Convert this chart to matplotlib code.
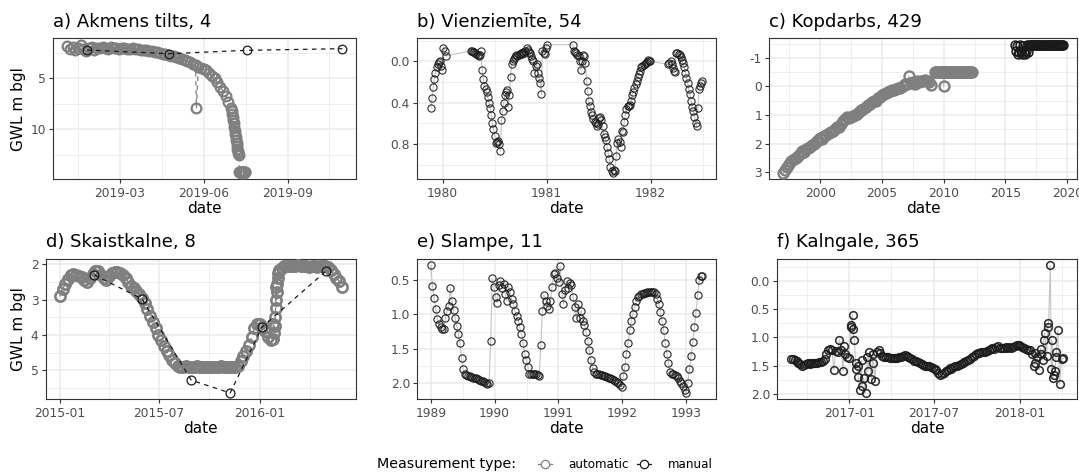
import numpy as np
import pandas as pd
import matplotlib
matplotlib.use("Agg")
import matplotlib.pyplot as plt
import matplotlib.dates as mdates
from matplotlib.lines import Line2D

plt.rcParams['font.family'] = ['DejaVu Sans']

# ------------------------------------------------------------------ data
titles = ["a) Akmens tilts, 4", "b) Vienziemīte, 54", "c) Kopdarbs, 429",
          "d) Skaistkalne, 8", "e) Slampe, 11", "f) Kalngale, 365"]

# a) automatic (3-day readings from 2019-01-02)
a_auto_start = "2019-01-02"
a_auto_vals = [1.8, 2.1, 1.9, 2.2, 2.0, 1.7, 2.1, 2.3, 2.0, 1.9, 2.2, 2.0,
               2.0, 1.9, 2.0, 2.1, 1.9, 2.0, 2.0, 2.1, 2.0, 2.0, 2.1, 2.1,
               2.0, 2.1, 2.1, 2.2, 2.2, 2.2,
               2.3, 2.3, 2.4, 2.4, 2.5, 2.6, 2.6, 2.7, 2.8,
               2.8, 2.9, 3.0, 3.1, 3.2, 3.3, 3.4, 3.6, 3.7, 3.9, 4.0, 4.1,
               4.2, 4.5, 4.8, 5.0, 5.4, 5.8, 6.2, 6.7, 7.3, 7.9]
# a) automatic, half-day readings from 2019-07-02
a_tail_start = "2019-07-02"
a_tail_vals = [8.2, 8.5, 8.8, 9.1, 9.4, 9.8, 10.1, 10.4, 10.7, 11.0, 11.3, 11.6,
               11.9, 12.1, 12.3, 12.5, 14.2, 14.2, 14.15, 14.2, 14.25, 14.2,
               14.2, 14.15, 14.2, 14.2, 14.25, 14.2, 14.2, 14.2]
a_auto_extra_dates = ["2019-05-24"]
a_auto_extra_vals = [7.9]
a_man_dates = ["2019-01-24", "2019-04-24", "2019-07-18", "2019-10-31"]
a_man_vals = [2.22, 2.58, 2.25, 2.09]

# b) manual, 4-day segments
b_seg_starts = ["1979-11-21", "1980-04-09", "1981-04-03", "1982-03-04"]
b_seg1 = [0.45, 0.36, 0.25, 0.17, 0.11, 0.06, 0.03, 0.01, 0.00, 0.05, 0.08,
          -0.13, -0.10, -0.05]
b_seg2 = [-0.10, -0.10, -0.09, -0.09, -0.08, -0.07, -0.06, -0.05, -0.06, -0.10,
          0.08, 0.17, 0.24, 0.27, 0.30, 0.35, 0.40, 0.45, 0.52, 0.60, 0.66, 0.72,
          0.79, 0.78, 0.77, 0.80, 0.87, 0.57, 0.48, 0.40, 0.33, 0.30, 0.28, 0.44,
          0.33, 0.15, 0.03, 0.00, -0.02, -0.04, -0.06, -0.05, -0.06, -0.07, -0.08,
          -0.07, -0.09, -0.08, -0.10, -0.13, -0.11, -0.09, -0.08, -0.05, -0.02,
          0.00, 0.11, 0.05, 0.03, 0.11, 0.16, 0.21, 0.32, -0.10, -0.08, -0.07,
          -0.13, -0.16]
b_seg3 = [-0.16, -0.10, -0.09, -0.08, -0.06, -0.05, 0.00, 0.08, 0.00, -0.06,
          -0.05, 0.02, 0.19, 0.29, 0.38, 0.43, 0.49, 0.52, 0.56, 0.59, 0.60, 0.63,
          0.61, 0.55, 0.54, 0.57, 0.63, 0.70, 0.73, 0.76, 0.83, 0.89, 0.95, 1.02,
          1.06, 1.08, 1.05, 1.06, 0.92, 0.79, 0.75, 0.78, 0.83, 0.67, 0.68, 0.59,
          0.52, 0.46, 0.43, 0.43, 0.42, 0.38, 0.33, 0.30, 0.26, 0.22, 0.19, 0.15,
          0.12, 0.09, 0.06, 0.05, 0.04, 0.03, 0.02, 0.01, -0.01, 0.00, 0.00]
b_seg4 = [0.03, 0.02, 0.00, 0.03, 0.07, 0.09, 0.10, -0.08, -0.08, -0.07, -0.06,
          -0.04, -0.01, 0.02, 0.06, 0.11, 0.16, 0.21, 0.27, 0.32, 0.38, 0.44,
          0.48, 0.54, 0.60, 0.63, 0.45, 0.27, 0.24, 0.21, 0.19]

# c) automatic bimonthly, automatic plateau monthly, manual monthly
c_auto_start = "1997-01-01"
c_auto_vals = [3.02, 2.92, 2.80, 2.70, 2.62, 2.55,
               2.50, 2.42, 2.35, 2.25, 2.28, 2.18,
               2.15, 2.10, 2.05, 2.00, 1.95, 1.88,
               1.80, 1.85, 1.72, 1.70, 1.62, 1.58,
               1.55, 1.50, 1.42, 1.40, 1.30, 1.22,
               1.15, 1.08, 1.10, 1.05, 1.02, 0.98,
               0.95, 0.90, 0.82, 0.80, 0.72, 0.66,
               0.60, 0.55, 0.52, 0.50, 0.42, 0.36,
               0.30, 0.28, 0.22, 0.20, 0.15, 0.14,
               0.12, 0.08, 0.06, 0.05, -0.02, -0.08,
               -0.10, -0.38, -0.12, -0.15, -0.10, -0.18,
               -0.15, -0.20, -0.18, -0.22, -0.20, -0.15,
               -0.05]
c_plat_start = "2009-05-01"
c_plat_vals = [-0.50, -0.49, -0.50, -0.51, -0.50, -0.50, -0.49, -0.50, -0.50,
               -0.51, -0.50, -0.50, -0.49, -0.50, -0.51, -0.50, -0.50, -0.50,
               -0.49, -0.50, -0.50, -0.51, -0.50, -0.50, -0.49, -0.50, -0.50,
               -0.51, -0.50, -0.50, -0.50, -0.49, -0.50, -0.50, -0.51, -0.50, -0.50]
c_auto_extra_dates = ["2010-01-01"]
c_auto_extra_vals = [0.0]
c_man_start = "2015-10-01"
c_man_vals = [-1.45, -1.25, -1.40, -1.15, -1.20, -1.45, -1.25, -1.15, -1.40, -1.20,
              -1.15, -1.25, -1.45, -1.20, -1.45, -1.45,
              -1.45, -1.46, -1.45, -1.44, -1.45, -1.45, -1.46, -1.45, -1.45, -1.44,
              -1.45, -1.45, -1.46, -1.45, -1.45, -1.44, -1.45, -1.45, -1.46, -1.45,
              -1.45, -1.44, -1.45, -1.45, -1.46, -1.45, -1.45, -1.44, -1.45, -1.45,
              -1.46, -1.45]

# d) automatic 5-day readings from 2015-01-01, daily readings in the Jan-2016 rise, manual
d_auto_start = "2015-01-01"
d_auto_vals = [2.91, 2.70, 2.56, 2.42, 2.30, 2.27, 2.30, 2.33, 2.36, 2.45,
               2.50, 2.40, 2.28, 2.18, 2.20, 2.30, 2.38, 2.45, 2.33, 2.25,
               2.22, 2.21, 2.25, 2.30, 2.40, 2.50, 2.60, 2.68, 2.76, 2.85,
               2.95, 3.10, 3.27, 3.45, 3.63, 3.80, 4.00, 4.15, 4.30, 4.46,
               4.58, 4.70, 4.80, 4.87, 4.90, 4.90, 4.89, 4.90, 4.91, 4.90,
               4.89, 4.90, 4.90, 4.91, 4.90, 4.90, 4.91, 4.90, 4.90, 4.89,
               4.90, 4.90, 4.91, 4.90, 4.90, 4.88, 4.75, 4.60, 4.45, 4.28,
               4.05, 3.80, 3.68, 3.70, 3.78, 3.90, 4.05, 4.15, 3.70, 2.63,
               2.20, 2.10, 2.06, 2.05, 2.04, 2.06, 2.05, 2.03, 2.04, 2.06,
               2.05, 2.08, 2.06, 2.05, 2.07, 2.06, 2.04, 2.05, 2.08, 2.15,
               2.28, 2.38, 2.48, 2.65]
d_rise_start = "2016-01-26"
d_rise_vals = [4.10, 3.95, 3.75, 3.50, 3.25, 3.00, 2.78, 2.55, 2.38, 2.25, 2.15]
d_man_dates = ["2015-03-05", "2015-05-31", "2015-08-29", "2015-11-08",
               "2016-01-05", "2016-05-01"]
d_man_vals = [2.30, 2.98, 5.28, 5.64, 3.78, 2.19]

# e) manual, readings every 9.25 days from 1989-01-01
e_start = "1989-01-01"
e_vals = [0.29, 0.59, 0.76, 0.92, 1.07, 1.14, 1.19, 1.21, 1.22, 1.05,
          0.95, 0.88, 0.62, 0.80, 0.93, 1.05, 1.17, 1.28, 1.42, 1.63,
          1.80, 1.86, 1.88, 1.89, 1.90, 1.91, 1.92, 1.93, 1.93, 1.94,
          1.95, 1.96, 1.97, 1.98, 1.99, 2.01, 2.00, 1.38, 0.48, 0.60,
          0.75, 0.83, 0.58, 0.52, 0.62, 0.56, 0.70, 0.80, 0.60, 0.68,
          0.78, 0.85, 0.95, 1.02, 1.09, 1.19, 1.28, 1.42, 1.57, 1.66,
          1.76, 1.86, 1.87, 1.86, 1.87, 1.86, 1.88, 1.90, 1.45, 0.95,
          0.72, 0.80, 0.88, 0.92, 0.80, 0.60, 0.42, 0.40, 0.47, 0.53,
          0.30, 0.70, 0.85, 0.65, 0.52, 0.62, 0.55, 0.58, 0.75, 0.90,
          1.05, 0.85, 1.05, 0.95, 1.10, 1.15, 1.25, 1.38, 1.52, 1.66,
          1.78, 1.83, 1.86, 1.86, 1.87, 1.88, 1.88, 1.89, 1.90, 1.91,
          1.92, 1.93, 1.94, 1.95, 1.96, 1.98, 2.00, 2.03, 2.05, 1.90,
          1.76, 1.57, 1.42, 1.23, 1.09, 0.99, 0.90, 0.80, 0.75, 0.73,
          0.71, 0.70, 0.69, 0.69, 0.68, 0.68, 0.67, 0.67, 0.67, 0.70,
          0.78, 0.85, 0.97, 1.09, 1.23, 1.42, 1.57, 1.71, 1.83, 1.86,
          1.87, 1.88, 1.90, 1.93, 1.96, 2.00, 2.04, 2.10, 2.14, 2.00,
          1.80, 1.60, 1.40, 1.19, 0.98, 0.72, 0.50, 0.45, 0.44]

# f) manual, 4-day readings from 2016-08-29, plus extra readings in noisy spells
f_start = "2016-08-29"
f_vals = [1.38, 1.38, 1.40, 1.42, 1.45, 1.47, 1.50, 1.49, 1.47, 1.46,
          1.47, 1.46, 1.45, 1.46, 1.45, 1.44, 1.43, 1.42, 1.38, 1.30,
          1.22, 1.20, 1.22, 1.57, 1.24, 1.25, 1.04, 1.22, 1.60, 1.30,
          1.34, 1.37, 0.81, 0.60, 1.05, 1.45, 1.50, 1.92, 1.40, 1.72,
          1.98, 1.35, 1.25, 1.74, 1.30, 1.77, 1.25, 1.22, 1.28, 1.33,
          1.34, 1.35, 1.35, 1.36, 1.36, 1.37, 1.37, 1.36, 1.35, 1.34,
          1.33, 1.31, 1.33, 1.35, 1.36, 1.39, 1.41, 1.42, 1.43, 1.45,
          1.47, 1.48, 1.50, 1.51, 1.51, 1.52, 1.54, 1.55, 1.57, 1.62,
          1.66, 1.64, 1.62, 1.60, 1.57, 1.54, 1.55, 1.53, 1.51, 1.50,
          1.49, 1.47, 1.45, 1.43, 1.41, 1.40, 1.38, 1.35, 1.32, 1.29,
          1.28, 1.27, 1.25, 1.25, 1.26, 1.24, 1.23, 1.20, 1.19, 1.20,
          1.17, 1.16, 1.18, 1.19, 1.18, 1.17, 1.18, 1.17, 1.19, 1.17,
          1.15, 1.14, 1.13, 1.15, 1.17, 1.19, 1.21, 1.22, 1.22, 1.30,
          1.51, 1.28, 1.35, 1.57, 1.30, 1.40, 0.93, 1.32, 0.81, -0.27,
          1.05, 1.66, 1.35, 0.87, 1.83, 1.38, 1.37]
f_extra_dates = ["2016-12-20", "2017-01-05", "2017-01-08", "2017-01-15", "2017-01-20",
                 "2017-01-28", "2017-02-10", "2017-02-20",
                 "2018-02-03", "2018-02-15", "2018-02-22", "2018-03-03", "2018-03-10",
                 "2018-03-13", "2018-03-18", "2018-03-21"]
f_extra_vals = [1.15, 0.78, 0.85, 1.55, 1.70, 1.85, 1.60, 1.45,
                1.45, 1.20, 1.05, 0.75, 1.55, 1.72, 1.60, 1.25]

# ticks
a_xticks = ["2019-03-01", "2019-06-01", "2019-09-01"]
a_xlabels = ["2019-03", "2019-06", "2019-09"]
a_yticks = [5, 10]
b_xticks = ["1980-01-01", "1981-01-01", "1982-01-01"]
b_xlabels = ["1980", "1981", "1982"]
b_yticks = [0.0, 0.4, 0.8]
b_ylabels = ["0.0", "0.4", "0.8"]
c_xticks = ["2000-01-01", "2005-01-01", "2010-01-01", "2015-01-01", "2020-01-01"]
c_xlabels = ["2000", "2005", "2010", "2015", "2020"]
c_yticks = [-1, 0, 1, 2, 3]
d_xticks = ["2015-01-01", "2015-07-01", "2016-01-01"]
d_xlabels = ["2015-01", "2015-07", "2016-01"]
d_yticks = [2, 3, 4, 5]
e_xticks = ["1989-01-01", "1990-01-01", "1991-01-01", "1992-01-01", "1993-01-01"]
e_xlabels = ["1989", "1990", "1991", "1992", "1993"]
e_yticks = [0.5, 1.0, 1.5, 2.0]
f_xticks = ["2017-01-01", "2017-07-01", "2018-01-01"]
f_xlabels = ["2017-01", "2017-07", "2018-01"]
f_yticks = [0.0, 0.5, 1.0, 1.5, 2.0]

# ------------------------------------------------------------------ helpers
AUTO = '#7f7f7f'
MAN = '#1a1a1a'
LIGHT = '#c4c4c4'
W, H = 1079, 476
fig = plt.figure(figsize=(W / 100, H / 100), dpi=100)


def dnum(s):
    return mdates.date2num(np.datetime64(s))


def seg(start, step, vals):
    return dnum(start) + step * np.arange(len(vals)), np.asarray(vals, float)


def monthly(start, vals, freq):
    idx = pd.date_range(start, periods=len(vals), freq=freq)
    return mdates.date2num(idx.values), np.asarray(vals, float)


def pts(dates, vals):
    return np.array([dnum(d) for d in dates]), np.asarray(vals, float)


def merge(*parts):
    x = np.concatenate([p[0] for p in parts])
    y = np.concatenate([p[1] for p in parts])
    o = np.argsort(x, kind='stable')
    return x[o], y[o]


def add_ax(l, r, t, b):
    return fig.add_axes([l / W, 1 - b / H, (r - l) / W, (b - t) / H])


def mids(m):
    m = np.asarray(m, float)
    inner = (m[:-1] + m[1:]) / 2
    return np.concatenate([[m[0] - (m[1] - m[0]) / 2], inner,
                           [m[-1] + (m[-1] - m[-2]) / 2]])


def finish(ax, xs, ys, xmaj, xlab, ymaj, ylab):
    allx = np.concatenate(xs)
    ally = np.concatenate(ys)
    x0, x1 = allx.min(), allx.max()
    dx = (x1 - x0) * 0.05
    y0, y1 = ally.min(), ally.max()
    dy = (y1 - y0) * 0.05
    xl = (x0 - dx, x1 + dx)
    yl = (y1 + dy, y0 - dy)
    xmaj = np.array([dnum(d) for d in xmaj])
    ax.set_xticks(xmaj)
    ax.set_xticklabels(xlab)
    xm = mids(xmaj)
    ax.set_xticks(xm[(xm > xl[0]) & (xm < xl[1])], minor=True)
    ax.set_yticks(ymaj)
    ax.set_yticklabels(ylab)
    ym = mids(ymaj)
    ax.set_yticks(ym[(ym > yl[1]) & (ym < yl[0])], minor=True)
    ax.set_xlim(xl)
    ax.set_ylim(yl)
    ax.grid(which='major', color='#EBEBEB', lw=1.1)
    ax.grid(which='minor', color='#EBEBEB', lw=0.55)
    ax.set_axisbelow(True)
    for s in ax.spines.values():
        s.set_color('#333333')
        s.set_linewidth(0.8)
    ax.tick_params(which='major', length=2.8, width=0.8, color='#333333',
                   labelsize=8.8, labelcolor='#4D4D4D', pad=2.4)
    ax.tick_params(which='minor', length=0)


rects = [(53.3, 356, 38.3, 179.3), (417.3, 716, 38.3, 179.3), (769.3, 1077, 38.3, 179.3),
         (45.7, 356, 259, 399.3), (417.3, 716, 259, 399.3), (777.3, 1077, 259, 399.3)]
axs = [add_ax(*r) for r in rects]
dash = (0, (3.6, 3.6))

# ---- a
ax = axs[0]
ax_x, ax_y = merge(seg(a_auto_start, 3, a_auto_vals), seg(a_tail_start, 0.5, a_tail_vals),
                   pts(a_auto_extra_dates, a_auto_extra_vals))
am_x, am_y = pts(a_man_dates, a_man_vals)
ax.plot(ax_x, ax_y, ls=dash, color=AUTO, lw=0.9, zorder=2)
ax.plot(ax_x, ax_y, ls='none', marker='o', mfc='none', mec=AUTO, ms=7.0, mew=1.6, zorder=3)
ax.plot(am_x, am_y, ls=dash, color=MAN, lw=0.9, zorder=4)
ax.plot(am_x, am_y, ls='none', marker='o', mfc='none', mec=MAN, ms=6.2, mew=0.9, zorder=5)
finish(ax, [ax_x, am_x], [ax_y, am_y], a_xticks, a_xlabels, a_yticks,
       [str(v) for v in a_yticks])

# ---- b
ax = axs[1]
segs = [seg(s, 4, v) for s, v in zip(b_seg_starts, [b_seg1, b_seg2, b_seg3, b_seg4])]
bx, by = merge(*segs)
ax.plot(bx, by, color=LIGHT, lw=0.8, zorder=2)
ax.plot(bx, by, ls='none', marker='o', mfc='none', mec=MAN, ms=5.2, mew=0.8, alpha=0.9, zorder=3)
finish(ax, [bx], [by], b_xticks, b_xlabels, b_yticks, b_ylabels)

# ---- c
ax = axs[2]
cx, cy = merge(monthly(c_auto_start, c_auto_vals, '2MS'), monthly(c_plat_start, c_plat_vals, 'MS'),
               pts(c_auto_extra_dates, c_auto_extra_vals))
cmx, cmy = monthly(c_man_start, c_man_vals, 'MS')
ax.plot(cx, cy, color=AUTO, lw=0.6, alpha=0.6, zorder=2)
ax.plot(cx, cy, ls='none', marker='o', mfc='none', mec=AUTO, ms=7.2, mew=1.7, zorder=3)
ax.plot(cmx, cmy, color=MAN, lw=0.6, alpha=0.5, zorder=4)
ax.plot(cmx, cmy, ls='none', marker='o', mfc='none', mec=MAN, ms=6.4, mew=1.1, zorder=5)
finish(ax, [cx, cmx], [cy, cmy], c_xticks, c_xlabels, c_yticks,
       [str(v) for v in c_yticks])

# ---- d
ax = axs[3]
dx_, dy_ = merge(seg(d_auto_start, 5, d_auto_vals), seg(d_rise_start, 1, d_rise_vals))
dmx, dmy = pts(d_man_dates, d_man_vals)
ax.plot(dx_, dy_, ls=dash, color=AUTO, lw=0.9, zorder=2)
ax.plot(dx_, dy_, ls='none', marker='o', mfc='none', mec=AUTO, ms=7.4, mew=1.9, zorder=3)
ax.plot(dmx, dmy, ls=dash, color=MAN, lw=0.9, zorder=4)
ax.plot(dmx, dmy, ls='none', marker='o', mfc='none', mec=MAN, ms=6.4, mew=0.9, zorder=5)
finish(ax, [dx_, dmx], [dy_, dmy], d_xticks, d_xlabels, d_yticks,
       [str(v) for v in d_yticks])

# ---- e
ax = axs[4]
ex, ey = seg(e_start, 9.25, e_vals)
ax.plot(ex, ey, color=LIGHT, lw=0.8, zorder=2)
ax.plot(ex, ey, ls='none', marker='o', mfc='none', mec=MAN, ms=5.2, mew=0.85, alpha=0.9, zorder=3)
finish(ax, [ex], [ey], e_xticks, e_xlabels, e_yticks, [f"{v:.1f}" for v in e_yticks])

# ---- f
ax = axs[5]
fx, fy = merge(seg(f_start, 4, f_vals), pts(f_extra_dates, f_extra_vals))
ax.plot(fx, fy, color=LIGHT, lw=0.8, zorder=2)
ax.plot(fx, fy, ls='none', marker='o', mfc='none', mec=MAN, ms=5.5, mew=1.15, alpha=0.9, zorder=3)
finish(ax, [fx], [fy], f_xticks, f_xlabels, f_yticks, [f"{v:.1f}" for v in f_yticks])

# ---- titles and axis titles
for t, (l, r, top, bot), row in zip(titles, rects, [0, 0, 0, 1, 1, 1]):
    base = 27.3 if row == 0 else 247.3
    fig.text(l / W, 1 - base / H, t, fontsize=13.0, ha='left', va='baseline', color='black')
    dbase = 213.3 if row == 0 else 433.3
    fig.text((l + r) / 2 / W, 1 - dbase / H, 'date', fontsize=11, ha='center',
             va='baseline', color='black')
for (l, r, top, bot) in [rects[0], rects[3]]:
    fig.text(18.5 / W, 1 - (top + bot) / 2 / H, 'GWL m bgl', fontsize=11, rotation=90,
             ha='center', va='center', color='black')

# ---- legend
ly = 464.0
fig.text(376.7 / W, 1 - 468.3 / H, 'Measurement type:', fontsize=10.3, ha='left',
         va='baseline', color='black')
for (x0, x1, col, lab, tx) in [(537.5, 551.5, AUTO, 'automatic', 568),
                               (636.5, 650.5, MAN, 'manual', 668)]:
    key = Line2D([x0 / W, (x0 + x1) / 2 / W, x1 / W], [1 - ly / H] * 3,
                 transform=fig.transFigure, color=col, lw=0.9, marker='o',
                 markevery=[1], mfc='white', mec=col, ms=6.0, mew=0.9)
    fig.add_artist(key)
    fig.text(tx / W, 1 - 468.3 / H, lab, fontsize=8.6, ha='left', va='baseline',
             color='black')

fig.savefig('out.png', dpi=100)
